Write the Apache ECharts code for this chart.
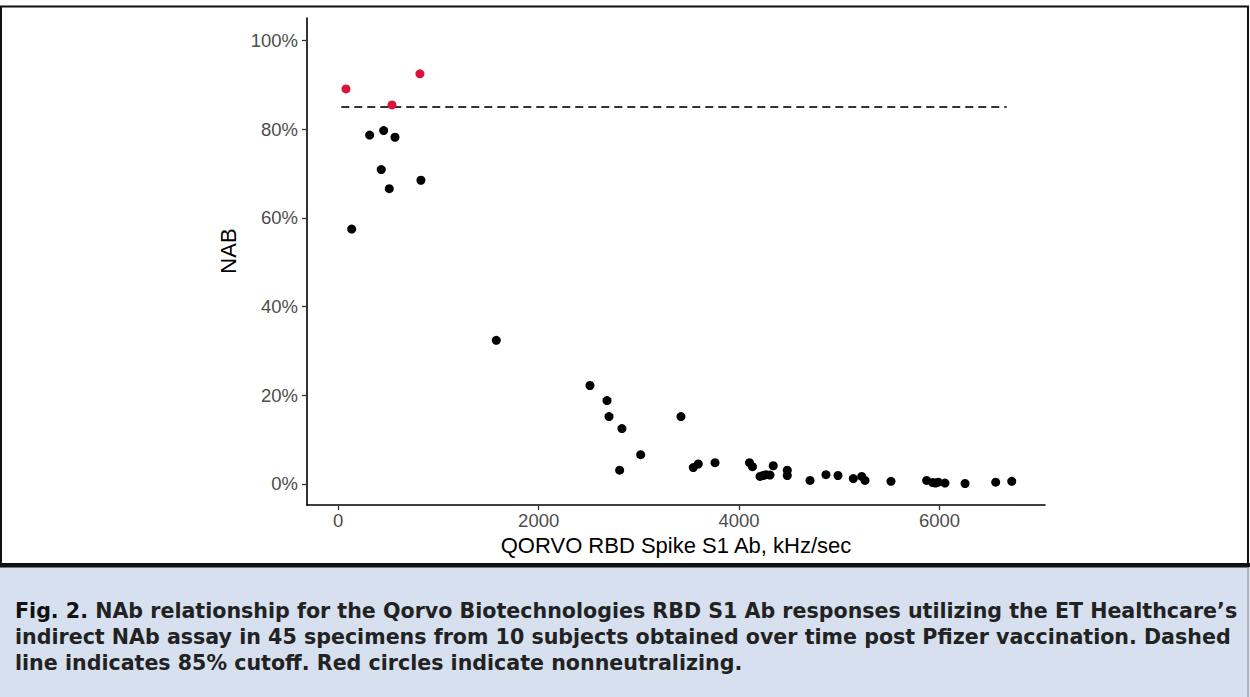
<!DOCTYPE html>
<html><head><meta charset="utf-8">
<script src="https://cdn.jsdelivr.net/npm/echarts@6/dist/echarts.min.js"></script>
<style>html,body{margin:0;padding:0;background:#fff;overflow:hidden}#c{width:1250px;height:697px}</style>
</head><body><div id="c"></div>
<script>
// ---- data ----
const neutX = [313, 453, 566, 429, 509, 825, 134,
  1577, 2512, 2682, 2702, 2831, 3018, 2808, 3420,
  3543, 3593, 3760, 4104, 4134, 4209, 4240, 4269, 4309, 4341, 4481, 4481,
  4708, 4867, 4987, 5140, 5224, 5257, 5516, 5872, 5932, 5960, 5988, 6055, 6255, 6561, 6721];
const neutY = [78.7, 79.7, 78.2, 70.9, 66.6, 68.5, 57.5,
  32.4, 22.2, 18.8, 15.2, 12.5, 6.6, 3.1, 15.2,
  3.7, 4.5, 4.8, 4.8, 3.9, 1.7, 1.9, 2.1, 2.0, 4.1, 3.1, 1.9,
  0.8, 2.1, 1.9, 1.2, 1.7, 0.8, 0.6, 0.8, 0.3, 0.2, 0.4, 0.2, 0.1, 0.4, 0.6];
const nonNeutX = [77, 536, 815];
const nonNeutY = [89.1, 85.5, 92.5];
const cutoffY = 85;
const cutoffX = [30, 6670];
const xTicks = [0, 2000, 4000, 6000];
const yTicks = [0, 20, 40, 60, 80, 100];
const xTitle = 'QORVO RBD Spike S1 Ab, kHz/sec';
const yTitle = 'NAB';
const captionLead = 'Fig. 2.';
const captionLines = [
  ' NAb relationship for the Qorvo Biotechnologies RBD S1 Ab responses utilizing the ET Healthcare\u2019s',
  'indirect NAb assay in 45 specimens from 10 subjects obtained over time post Pfizer vaccination. Dashed',
  'line indicates 85% cutoff. Red circles indicate nonneutralizing.'
];

const capFont = '"DejaVu Sans"';
const cv = document.createElement('canvas').getContext('2d');
cv.font = 'bold 100px ' + capFont;
let capSize = 100 * 1222 / cv.measureText(captionLead + captionLines[0]).width;
if (!(capSize >= 18 && capSize <= 22.3)) capSize = 20.4;
capSize = Math.round(capSize * 10) / 10;
const capLH = 26;

const chart = echarts.init(document.getElementById('c'), null, {renderer: 'svg'});

chart.setOption({
  animation: false,
  grid: {left: 307, right: 205, top: 18, bottom: 192, containLabel: false},
  xAxis: {
    type: 'value', min: -312, max: 7053,
    axisLine: {show: true, onZero: false, lineStyle: {color: '#000', width: 1.6}},
    axisTick: {show: true, customValues: xTicks, length: 5, lineStyle: {color: '#333', width: 1.3}},
    axisLabel: {customValues: xTicks, color: '#4d4d4d', fontSize: 18.5, fontFamily: 'Liberation Sans', margin: 6,
      formatter: v => String(v)},
    splitLine: {show: false},
    name: xTitle, nameLocation: 'middle', nameGap: 28,
    nameTextStyle: {color: '#000', fontSize: 22, fontFamily: 'Liberation Sans'}
  },
  yAxis: {
    type: 'value', min: -4.75, max: 105.1,
    axisLine: {show: true, onZero: false, lineStyle: {color: '#000', width: 1.6}},
    axisTick: {show: true, customValues: yTicks, length: 5, lineStyle: {color: '#333', width: 1.3}},
    axisLabel: {customValues: yTicks, color: '#4d4d4d', fontSize: 18.5, fontFamily: 'Liberation Sans', margin: 9,
      formatter: v => v + '%'},
    splitLine: {show: false}
  },
  series: [
    {type: 'line', data: cutoffX.map(x => [x, cutoffY]), symbol: 'none', silent: true, z: 1,
      lineStyle: {color: '#333', width: 2, type: [8, 5]}},
    {type: 'scatter', data: neutX.map((x, i) => [x, neutY[i]]), symbolSize: 9, z: 3,
      itemStyle: {color: '#000', opacity: 1}},
    {type: 'scatter', data: nonNeutX.map((x, i) => [x, nonNeutY[i]]), symbolSize: 9, z: 3,
      itemStyle: {color: '#dc143c', opacity: 1}}
  ],
  graphic: [
    {type: 'rect', shape: {x: 1, y: 6.5, width: 1247, height: 560}, z: 5, silent: true,
      style: {fill: 'none', stroke: '#111', lineWidth: 2}},
    {type: 'rect', shape: {x: 0, y: 567, width: 1250, height: 130}, z: 4, silent: true,
      style: {fill: '#d6e0ee', stroke: null}},
    {type: 'rect', shape: {x: 0, y: 563, width: 1250, height: 4}, z: 6, silent: true,
      style: {fill: '#111'}},
    {type: 'rect', shape: {x: 1247.5, y: 567, width: 1, height: 130}, z: 6, silent: true,
      style: {fill: '#888'}},
    {type: 'text', x: 228, y: 251, rotation: Math.PI / 2, z: 10,
      style: {text: yTitle, fill: '#000', font: '22px "Liberation Sans"', textAlign: 'center', textVerticalAlign: 'middle'}},
    {type: 'text', left: 15, top: 598, z: 10,
      style: {
        text: '{a|' + captionLead + '}' + captionLines[0] + '\n' + captionLines[1] + '\n' + captionLines[2],
        font: 'bold ' + capSize + 'px ' + capFont, fill: '#222', lineHeight: capLH,
        rich: {
          a: {fill: '#111', font: 'bold ' + capSize + 'px ' + capFont, lineHeight: capLH}
        }
      }}
  ]
});
</script>
</body></html>
